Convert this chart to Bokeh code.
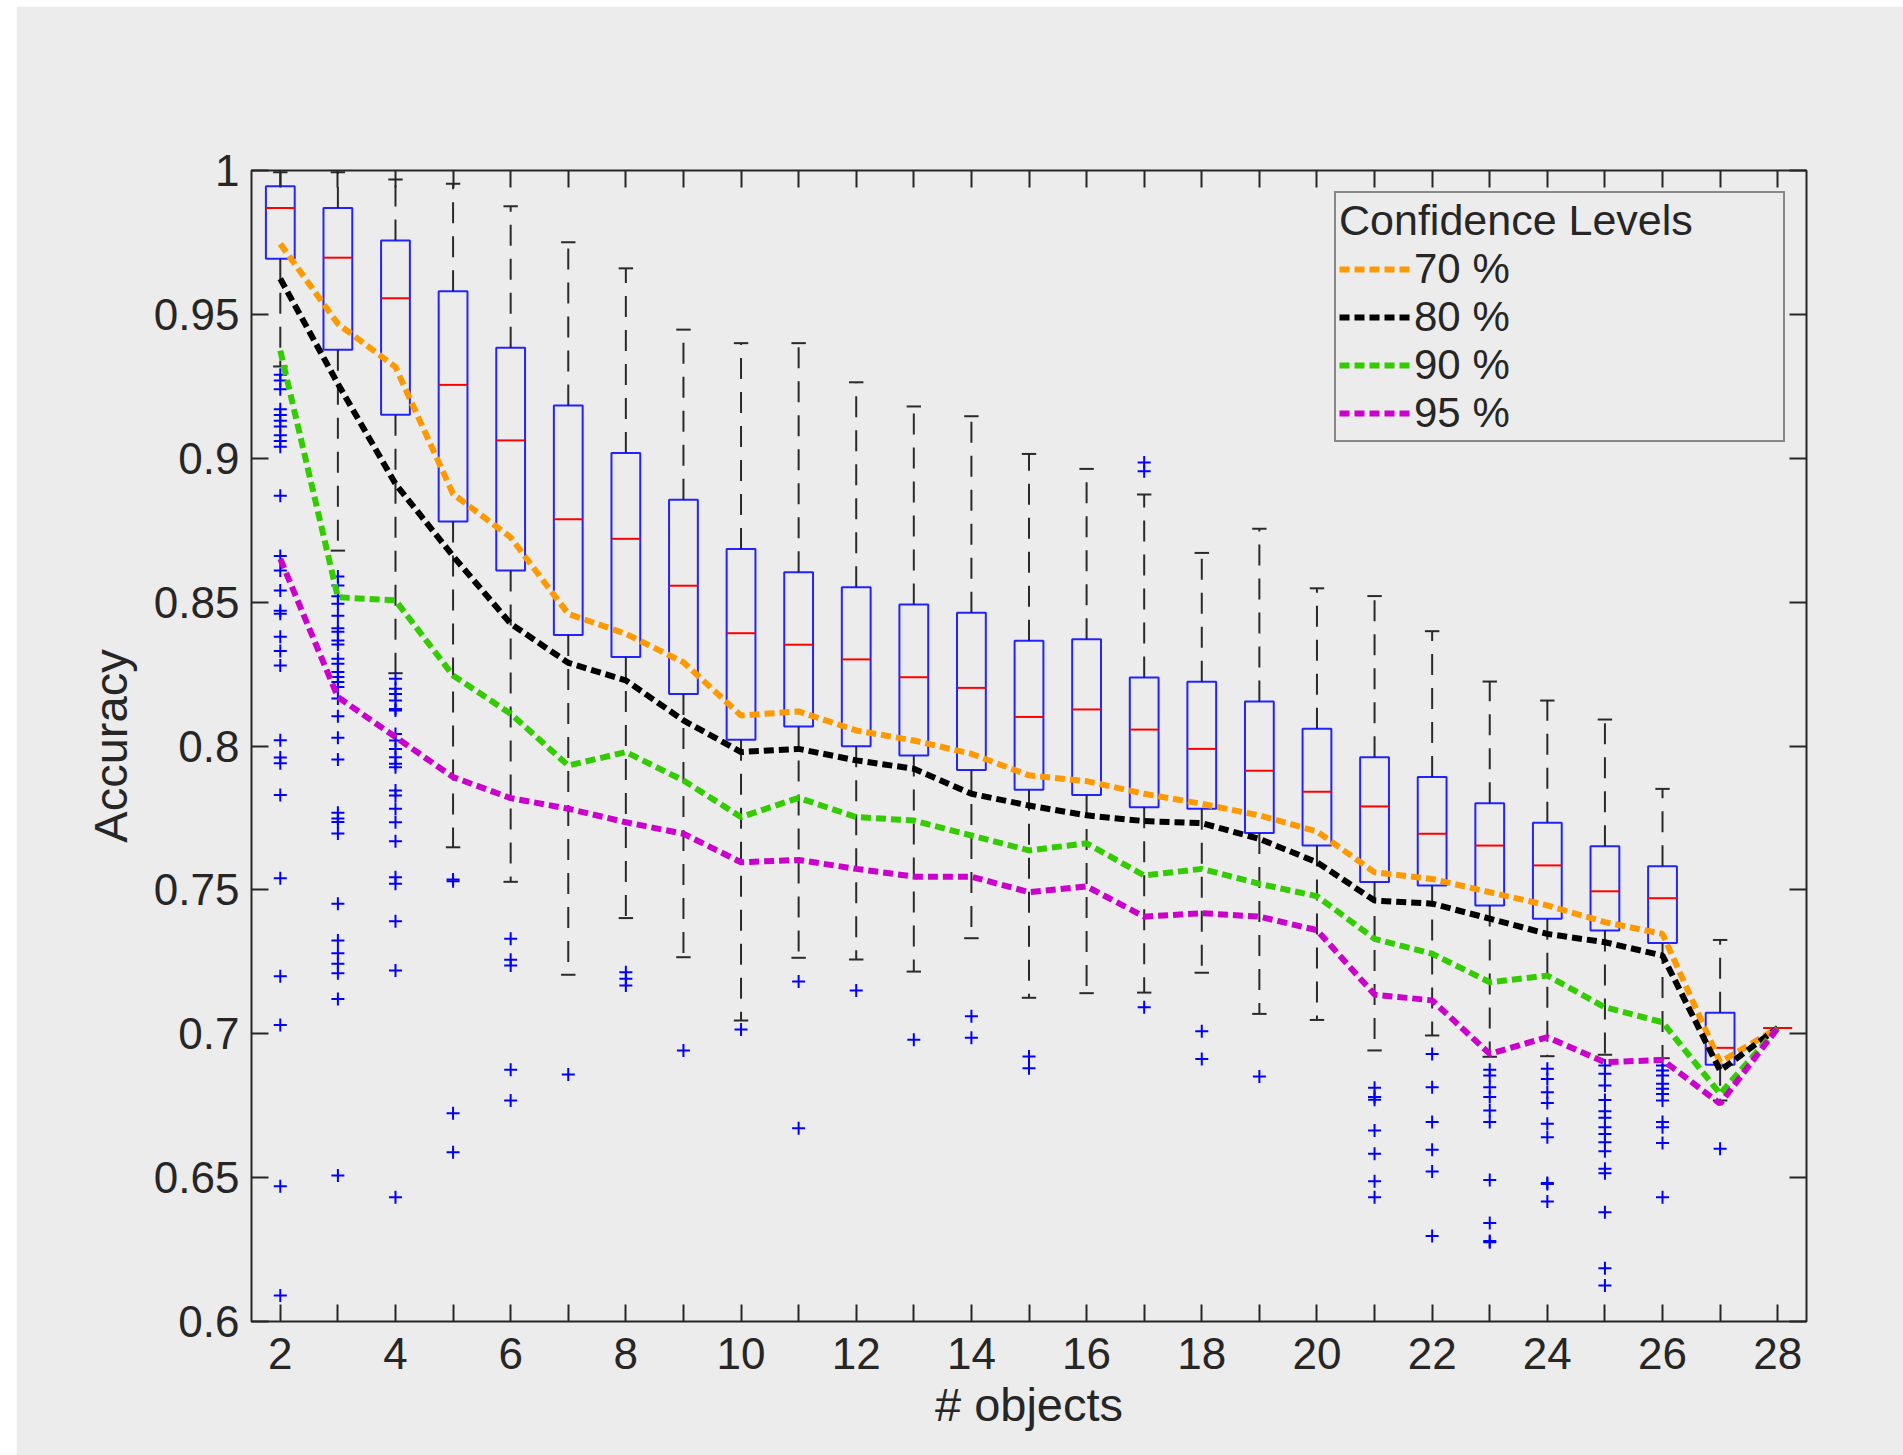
from bokeh.plotting import figure
from bokeh.models import Range1d, LinearAxis, FixedTicker, Spacer
from bokeh.layouts import row, column
from bokeh.embed import file_html
from bokeh.resources import INLINE

# ---------------- data ----------------
n_objects = list(range(2, 29))

whisker_low = [0.9319, 0.8679, 0.8253, 0.7648, 0.7528, 0.7205, 0.7402, 0.7266,
               0.7046, 0.7264, 0.7258, 0.7216, 0.7332, 0.7125, 0.7141, 0.7143,
               0.7212, 0.7069, 0.7048, 0.6942, 0.6994, 0.6920, 0.6922, 0.6927,
               0.6915, 0.6768, 0.7020]
q1 = [0.9693, 0.9377, 0.9151, 0.8780, 0.8610, 0.8386, 0.8309, 0.8181,
      0.8022, 0.8068, 0.7999, 0.7967, 0.7917, 0.7848, 0.7830, 0.7787,
      0.7782, 0.7698, 0.7654, 0.7527, 0.7515, 0.7446, 0.7400, 0.7359,
      0.7315, 0.6892, 0.7020]
median = [0.9870, 0.9697, 0.9556, 0.9255, 0.9062, 0.8788, 0.8720, 0.8557,
          0.8392, 0.8352, 0.8301, 0.8239, 0.8202, 0.8101, 0.8127, 0.8057,
          0.7990, 0.7914, 0.7841, 0.7790, 0.7695, 0.7654, 0.7585, 0.7495,
          0.7471, 0.6951, 0.7020]
q3 = [0.9945, 0.9870, 0.9757, 0.9580, 0.9384, 0.9183, 0.9018, 0.8856,
      0.8685, 0.8604, 0.8552, 0.8492, 0.8463, 0.8366, 0.8371, 0.8238,
      0.8223, 0.8155, 0.8060, 0.7961, 0.7892, 0.7801, 0.7733, 0.7652,
      0.7582, 0.7073, 0.7020]
whisker_high = [0.9994, 0.9994, 0.9969, 0.9954, 0.9876, 0.9751, 0.9660, 0.9447,
                0.9400, 0.9400, 0.9264, 0.9180, 0.9146, 0.9015, 0.8963, 0.8874,
                0.8671, 0.8755, 0.8548, 0.8521, 0.8399, 0.8224, 0.8158, 0.8092,
                0.7851, 0.7326, 0.7020]
outliers = [
    [0.929, 0.927, 0.924, 0.917, 0.915, 0.913, 0.911, 0.908, 0.906, 0.904, 0.887,
     0.866, 0.861, 0.854, 0.847, 0.846, 0.838, 0.833, 0.828, 0.802, 0.796, 0.794,
     0.783, 0.754, 0.720, 0.703, 0.647, 0.609],
    [0.8589, 0.8558, 0.8520, 0.8494, 0.8453, 0.8409, 0.8397, 0.8367, 0.8353, 0.8303,
     0.8286, 0.8257, 0.8240, 0.8222, 0.8205, 0.8165, 0.8103, 0.8029, 0.7953, 0.7768,
     0.7748, 0.7736, 0.7696, 0.7452, 0.7324, 0.7280, 0.7243, 0.7210, 0.7121, 0.6507],
    [0.8234, 0.8199, 0.8181, 0.8158, 0.8129, 0.8123, 0.8042, 0.8019, 0.7990, 0.7961,
     0.7938, 0.7926, 0.7845, 0.7828, 0.7782, 0.7735, 0.7669, 0.7544, 0.7521, 0.7391,
     0.7220, 0.6432],
    [0.7536, 0.7530, 0.6724, 0.6588],
    [0.7330, 0.7257, 0.7237, 0.6875, 0.6768],
    [0.6858],
    [0.7214, 0.7191, 0.7168],
    [0.6942],
    [0.7015],
    [0.7182, 0.6672],
    [0.7150],
    [0.6979],
    [0.7061, 0.6986],
    [0.6921, 0.6880],
    [],
    [0.8985, 0.8955, 0.7092],
    [0.7009, 0.6912],
    [0.6851],
    [],
    [0.6812, 0.6780, 0.6771, 0.6664, 0.6583, 0.6487, 0.6432],
    [0.6930, 0.6814, 0.6693, 0.6597, 0.6521, 0.6297],
    [0.6875, 0.6855, 0.6814, 0.6780, 0.6733, 0.6693, 0.6492, 0.6342, 0.6280, 0.6275],
    [0.6878, 0.6843, 0.6797, 0.6759, 0.6687, 0.6640, 0.6481, 0.6478, 0.6417],
    [0.6890, 0.6861, 0.6820, 0.6770, 0.6731, 0.6708, 0.6675, 0.6652, 0.6623, 0.6592,
     0.6531, 0.6515, 0.6380, 0.6185, 0.6125],
    [0.6890, 0.6872, 0.6855, 0.6826, 0.6809, 0.6791, 0.6768, 0.6693, 0.6675, 0.6620,
     0.6432],
    [0.6600],
    [],
]

conf_70 = [0.9745, 0.9467, 0.9317, 0.8876, 0.8725, 0.8459, 0.8390, 0.8291, 0.8106,
           0.8120, 0.8054, 0.8019, 0.7973, 0.7898, 0.7878, 0.7834, 0.7799, 0.7759,
           0.7703, 0.7561, 0.7538, 0.7492, 0.7446, 0.7388, 0.7347, 0.6901, 0.7020]
conf_80 = [0.9624, 0.9259, 0.8911, 0.8660, 0.8425, 0.8289, 0.8228, 0.8089, 0.7979,
           0.7990, 0.7950, 0.7921, 0.7834, 0.7793, 0.7759, 0.7739, 0.7732, 0.7677,
           0.7596, 0.7463, 0.7452, 0.7400, 0.7347, 0.7318, 0.7272, 0.6872, 0.7020]
conf_90 = [0.9374, 0.8517, 0.8506, 0.8245, 0.8112, 0.7932, 0.7979, 0.7880, 0.7753,
           0.7820, 0.7753, 0.7741, 0.7689, 0.7637, 0.7662, 0.7550, 0.7573, 0.7521,
           0.7478, 0.7330, 0.7278, 0.7179, 0.7202, 0.7092, 0.7040, 0.6791, 0.7020]
conf_95 = [0.8650, 0.8170, 0.8031, 0.7892, 0.7819, 0.7782, 0.7735, 0.7695, 0.7596,
           0.7604, 0.7573, 0.7546, 0.7546, 0.7492, 0.7512, 0.7407, 0.7419, 0.7407,
           0.7360, 0.7136, 0.7116, 0.6930, 0.6988, 0.6901, 0.6909, 0.6757, 0.7020]

conf_labels = ["70 %", "80 %", "90 %", "95 %"]
conf_colors = ["#ff9900", "#000000", "#33cc00", "#cc00cc"]

y_ticks = [0.6, 0.65, 0.7, 0.75, 0.8, 0.85, 0.9, 0.95, 1.0]
y_tick_labels = ["0.6", "0.65", "0.7", "0.75", "0.8", "0.85", "0.9", "0.95", "1"]

# ---------------- figure ----------------
BG = "#ececec"
AX = "#262626"
FONT = "Liberation Sans"

p = figure(frame_width=1555, frame_height=1151,
           min_border_left=235, min_border_right=97,
           min_border_top=164, min_border_bottom=134,
           x_range=Range1d(1.5, 28.5), y_range=Range1d(0.6, 1.0),
           output_backend="svg", toolbar_location=None,
           background_fill_color=BG, border_fill_color=BG)
p.grid.visible = False
p.outline_line_color = AX
p.outline_line_width = 2

box_w = 0.5
cap_w = 0.25
left = [x - box_w / 2 for x in n_objects]
right = [x + box_w / 2 for x in n_objects]
cap_l = [x - cap_w / 2 for x in n_objects]
cap_r = [x + cap_w / 2 for x in n_objects]

# whiskers (dashed)
p.segment(x0=n_objects, y0=q3, x1=n_objects, y1=whisker_high,
          line_color="#2a2a2a", line_width=2, line_dash="21 13")
p.segment(x0=n_objects, y0=q1, x1=n_objects, y1=whisker_low,
          line_color="#2a2a2a", line_width=2, line_dash="21 13")
# caps
p.segment(x0=cap_l, y0=whisker_high, x1=cap_r, y1=whisker_high,
          line_color="#2a2a2a", line_width=2)
p.segment(x0=cap_l, y0=whisker_low, x1=cap_r, y1=whisker_low,
          line_color="#2a2a2a", line_width=2)
# boxes
p.quad(left=left, right=right, bottom=q1, top=q3,
       fill_color=None, line_color="#0000ff", line_width=2, line_alpha=0.85)
# medians
p.segment(x0=left, y0=median, x1=right, y1=median,
          line_color="#ff0000", line_width=2)

# outliers
ox, oy = [], []
for x, vals in zip(n_objects, outliers):
    for v in vals:
        ox.append(x)
        oy.append(v)
p.scatter(ox, oy, marker="cross", size=13, line_color="#0000ff", line_width=2)

# confidence-level lines
for ys, lab, col in zip([conf_70, conf_80, conf_90, conf_95], conf_labels, conf_colors):
    p.line(n_objects, ys, line_color=col, line_width=6, line_dash="10 5",
           legend_label=lab)

# ---------------- axes ----------------
def style_axis(ax):
    ax.axis_line_color = None
    ax.major_tick_in = 17
    ax.major_tick_out = 0
    ax.major_tick_line_color = AX
    ax.major_tick_line_width = 2
    ax.minor_tick_line_color = None
    ax.major_label_text_font = FONT
    ax.major_label_text_font_size = "44px"
    ax.major_label_text_color = AX
    ax.axis_label_text_font = FONT
    ax.axis_label_text_font_size = "47px"
    ax.axis_label_text_font_style = "normal"
    ax.axis_label_text_color = AX

x_overrides = {x: (str(x) if x % 2 == 0 else "") for x in n_objects}
y_overrides = {v: s for v, s in zip(y_ticks, y_tick_labels)}

xa = p.xaxis[0]
xa.ticker = FixedTicker(ticks=n_objects)
xa.major_label_overrides = x_overrides
xa.axis_label = "# objects"
style_axis(xa)
xa.major_label_standoff = 16
xa.axis_label_standoff = 6

ya = p.yaxis[0]
ya.ticker = FixedTicker(ticks=y_ticks)
ya.major_label_overrides = y_overrides
ya.axis_label = "Accuracy"
style_axis(ya)
ya.major_label_standoff = 12
ya.axis_label_standoff = 14

top = LinearAxis(ticker=FixedTicker(ticks=n_objects),
                 major_label_overrides={x: "" for x in n_objects})
style_axis(top)
p.add_layout(top, "above")
rgt = LinearAxis(ticker=FixedTicker(ticks=y_ticks),
                 major_label_overrides={v: "" for v in y_ticks})
style_axis(rgt)
p.add_layout(rgt, "right")

# ---------------- legend ----------------
lg = p.legend[0]
lg.title = "Confidence Levels"
lg.title_text_font = FONT
lg.title_text_font_size = "43px"
lg.title_text_font_style = "normal"
lg.title_text_color = AX
lg.title_standoff = 0
lg.label_text_font = FONT
lg.label_text_font_size = "42px"
lg.label_text_color = AX
lg.label_text_line_height = 1.0
lg.label_height = 20
lg.glyph_width = 71
lg.glyph_height = 20
lg.label_standoff = 4
lg.label_width = 366
lg.spacing = -3
lg.padding = 3
lg.margin = 21
lg.location = "top_right"
lg.border_line_color = AX
lg.border_line_width = 2
lg.background_fill_color = BG
lg.background_fill_alpha = 1.0

layout = column(Spacer(height=6), row(Spacer(width=16), p))
open("out.html", "w").write(file_html(layout, INLINE))
